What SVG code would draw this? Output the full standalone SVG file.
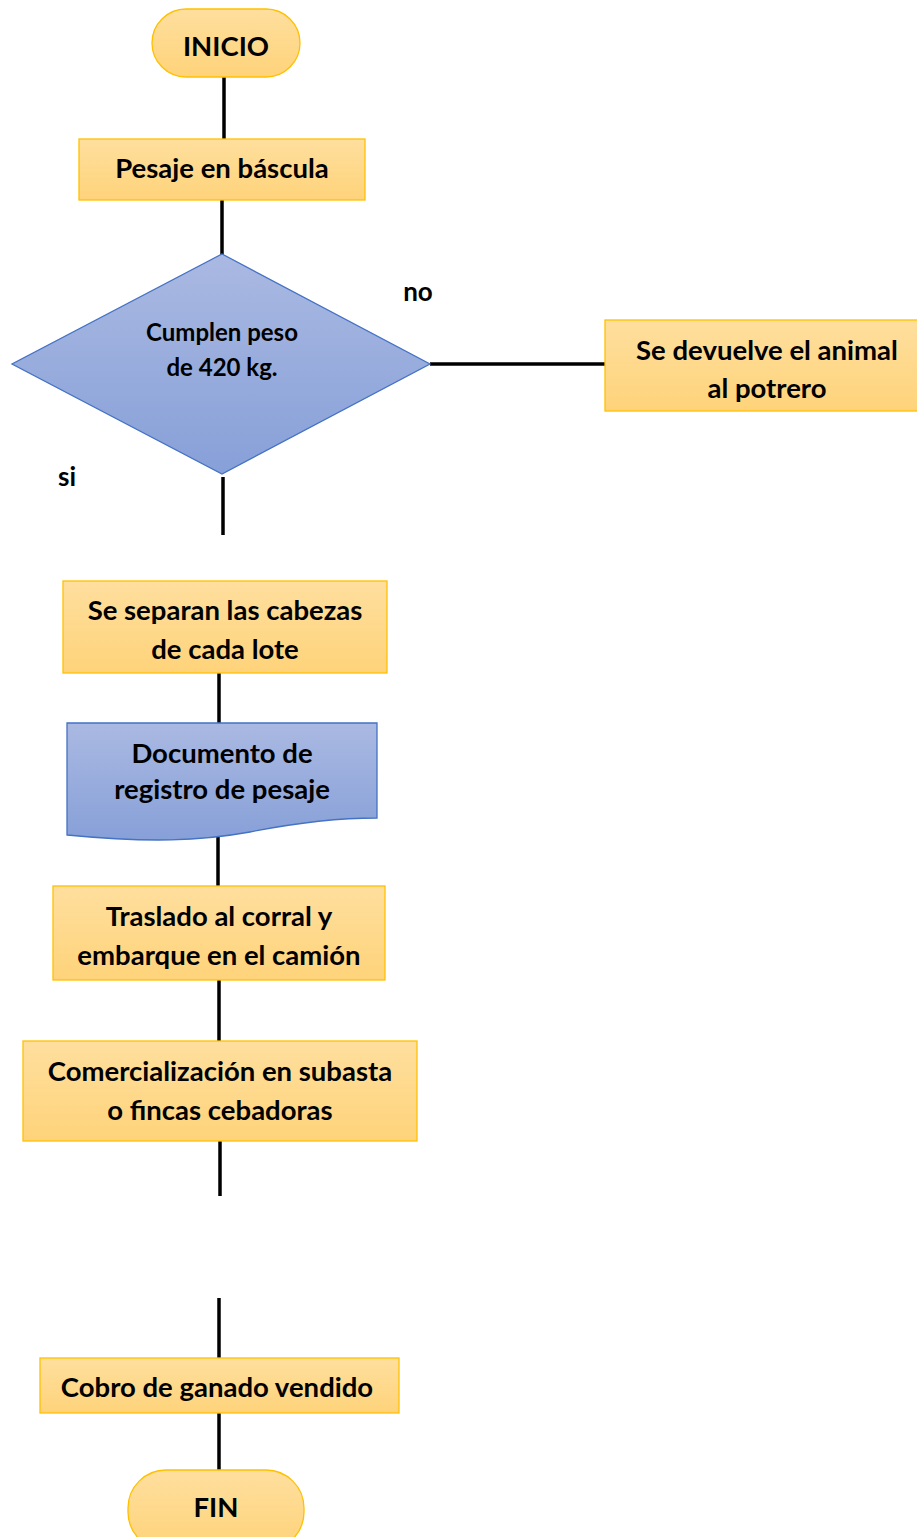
<svg xmlns="http://www.w3.org/2000/svg" width="917" height="1537" viewBox="0 0 917 1537">
<defs>
<linearGradient id="og" x1="0" y1="0" x2="0" y2="1"><stop offset="0" stop-color="#FFDF9E"/><stop offset="1" stop-color="#FED37A"/></linearGradient>
<linearGradient id="bg" x1="0" y1="0" x2="0" y2="1"><stop offset="0" stop-color="#AAB9E2"/><stop offset="1" stop-color="#87A0D8"/></linearGradient>
<style>
.o{fill:url(#og);stroke:#FFC000;stroke-width:1.3}
.b{fill:url(#bg);stroke:#4472C4;stroke-width:1.3}
.t{font-family:Lato,"Open Sans","Liberation Sans",sans-serif;font-weight:bold;font-size:27.5px;fill:#000;text-anchor:middle;dominant-baseline:central}
.s{font-size:24px}
.l{font-size:26px}
.c{stroke:#000;stroke-width:3.5;fill:none}
</style>
</defs>
<g id="connectors">
<line class="c" x1="224" y1="77" x2="224" y2="139"/>
<line class="c" x1="222" y1="200" x2="222" y2="255"/>
<line class="c" x1="430" y1="364" x2="605" y2="364"/>
<line class="c" x1="223" y1="477" x2="223" y2="535"/>
<line class="c" x1="219" y1="673" x2="219" y2="723"/>
<line class="c" x1="218" y1="832" x2="218" y2="886"/>
<line class="c" x1="219" y1="980" x2="219" y2="1041"/>
<line class="c" x1="220" y1="1141" x2="220" y2="1196"/>
<line class="c" x1="219" y1="1298" x2="219" y2="1358"/>
<line class="c" x1="219" y1="1413" x2="219" y2="1470"/>
</g>
<g id="inicio">
<rect class="o" x="152" y="9" width="148" height="68" rx="34"/>
<text class="t" x="226" y="45">INICIO</text>
</g>
<g id="pesaje">
<rect class="o" x="79" y="139" width="286" height="61"/>
<text class="t" x="222" y="167">Pesaje en báscula</text>
</g>
<g id="decision">
<polygon class="b" points="222,254 430,364 222,474 12,364"/>
<text class="t s" x="222" y="331">Cumplen peso</text>
<text class="t s" x="222" y="366">de 420 kg.</text>
</g>
<text class="t l" x="418" y="291">no</text>
<text class="t l" x="67" y="476">si</text>
<g id="devuelve">
<rect class="o" x="605" y="320" width="313" height="91"/>
<text class="t" x="767" y="349">Se devuelve el animal</text>
<text class="t" x="767" y="387">al potrero</text>
</g>
<g id="separan">
<rect class="o" x="63" y="581" width="324" height="92"/>
<text class="t" x="225" y="609">Se separan las cabezas</text>
<text class="t" x="225" y="648">de cada lote</text>
</g>
<g id="documento">
<path class="b" d="M67,723 H377 V818 C340,818 300,822 250,832 C200,841 150,843 67,835 Z"/>
<text class="t" x="222" y="752">Documento de</text>
<text class="t" x="222" y="788">registro de pesaje</text>
</g>
<g id="traslado">
<rect class="o" x="53" y="886" width="332" height="94"/>
<text class="t" x="219" y="915">Traslado al corral y</text>
<text class="t" x="219" y="954">embarque en el camión</text>
</g>
<g id="comercializacion">
<rect class="o" x="23" y="1041" width="394" height="100"/>
<text class="t" x="220" y="1070">Comercialización en subasta</text>
<text class="t" x="220" y="1109">o fincas cebadoras</text>
</g>
<g id="cobro">
<rect class="o" x="40" y="1358" width="359" height="55"/>
<text class="t" x="217" y="1386">Cobro de ganado vendido</text>
</g>
<g id="fin">
<rect class="o" x="128" y="1470" width="176" height="80" rx="38"/>
<text class="t" x="216" y="1506">FIN</text>
</g>
</svg>
